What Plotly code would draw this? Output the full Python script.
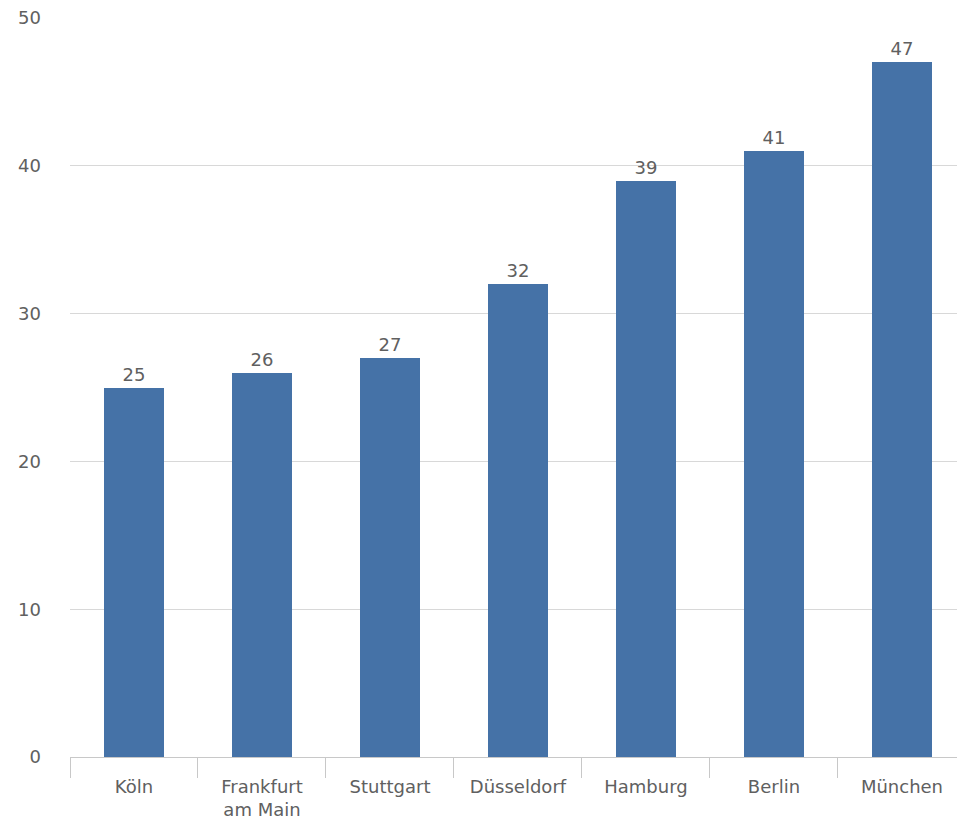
import plotly.graph_objects as go

cities = ["Köln", "Frankfurt<br>am Main", "Stuttgart", "Düsseldorf", "Hamburg", "Berlin", "München"]
values = [25, 26, 27, 32, 39, 41, 47]
y_ticks = [0, 10, 20, 30, 40, 50]

font_family = "DejaVu Sans"
label_color = "#606060"
fsize = 18

fig = go.Figure(
    go.Bar(
        x=cities,
        y=values,
        width=0.47,
        marker=dict(color="#4572A7", line=dict(width=0)),
        text=[str(v) for v in values],
        textposition="outside",
        cliponaxis=False,
        textfont=dict(family=font_family, size=fsize, color=label_color),
    )
)

fig.update_layout(
    width=957,
    height=826,
    margin=dict(l=70, r=0, t=18, b=69),
    paper_bgcolor="white",
    plot_bgcolor="white",
    showlegend=False,
    bargap=0,
    font=dict(family=font_family, size=fsize, color=label_color),
)

fig.update_xaxes(
    type="category",
    range=[-0.5, 6.43],
    tickson="boundaries",
    ticks="outside",
    ticklen=20,
    tickcolor="#C8C8C8",
    showline=True,
    linecolor="#C8C8C8",
    linewidth=1,
    showgrid=False,
    zeroline=False,
    ticklabelstandoff=13,
    tickfont=dict(family=font_family, size=fsize, color=label_color),
)

fig.update_yaxes(
    range=[0, 50],
    tickmode="array",
    tickvals=y_ticks,
    showgrid=True,
    gridcolor="#D8D8D8",
    gridwidth=1,
    zeroline=False,
    showline=False,
    ticks="",
    ticklabelstandoff=28,
    tickfont=dict(family=font_family, size=fsize, color=label_color),
)

fig.write_html("out.html")
